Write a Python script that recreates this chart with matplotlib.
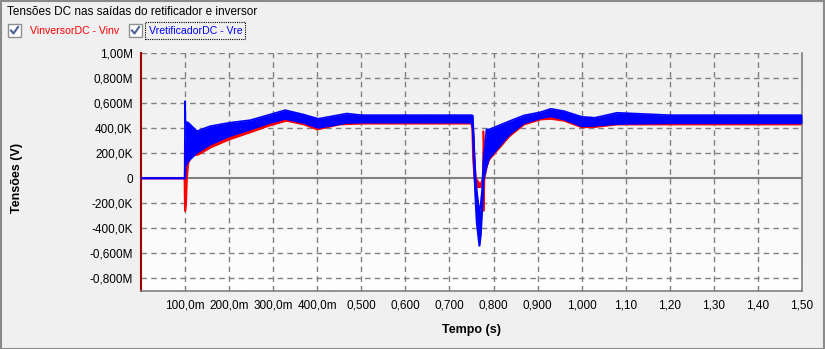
import numpy as np
import matplotlib
matplotlib.use('Agg')
import matplotlib.pyplot as plt
from matplotlib.patches import Rectangle
from matplotlib.lines import Line2D

plt.rcParams['font.family'] = ['Liberation Sans', 'DejaVu Sans']

# envelope of the ripple band, values in MV, time in s
# VretificadorDC (blue)
t_re = [0, 0.099, 0.1, 0.101, 0.107, 0.127, 0.157, 0.2, 0.248, 0.293, 0.327, 0.369, 0.402,
        0.467, 0.5, 0.75, 0.753, 0.756, 0.759, 0.762, 0.768, 0.771, 0.774, 0.777, 0.784,
        0.79, 0.836, 0.869, 0.907, 0.93, 0.96, 1.0, 1.03, 1.08, 1.2, 1.5]
re_lo = [0, 0, 0.0, 0.10, 0.137, 0.205, 0.27, 0.336, 0.39, 0.443, 0.475, 0.443, 0.403,
         0.443, 0.445, 0.445, 0.40, 0.10, -0.144, -0.35, -0.538, -0.45, -0.25, -0.01, 0.096,
         0.16, 0.35, 0.44, 0.48, 0.495, 0.47, 0.416, 0.42, 0.435, 0.44, 0.44]
re_hi = [0, 0, 0.616, 0.45, 0.445, 0.376, 0.416, 0.443, 0.464, 0.509, 0.544, 0.509, 0.475,
         0.517, 0.504, 0.504, 0.50, 0.25, 0.016, -0.10, -0.275, -0.20, -0.09, 0.15, 0.39,
         0.39, 0.456, 0.502, 0.528, 0.555, 0.536, 0.491, 0.483, 0.523, 0.504, 0.504]

# VinversorDC (red)
t_inv = [0, 0.099, 0.1, 0.102, 0.104, 0.107, 0.115, 0.13, 0.16, 0.2, 0.25, 0.29, 0.33, 0.37,
         0.40, 0.45, 0.5, 0.75, 0.752, 0.754, 0.757, 0.760, 0.770, 0.776, 0.777, 0.779,
         0.785, 0.79, 0.836, 0.869, 0.907, 0.93, 0.96, 1.0, 1.03, 1.08, 1.2, 1.5]
inv_lo = [0, 0, -0.26, -0.20, 0.0, 0.12, 0.18, 0.19, 0.25, 0.31, 0.37, 0.42, 0.46, 0.43,
          0.39, 0.43, 0.437, 0.437, 0.39, 0.15, 0.0, -0.07, -0.07, -0.05, -0.26, 0.0,
          0.10, 0.15, 0.336, 0.43, 0.47, 0.475, 0.46, 0.408, 0.41, 0.43, 0.43, 0.43]
inv_hi = [0, 0, 0.10, 0.25, 0.30, 0.38, 0.39, 0.35, 0.30, 0.36, 0.41, 0.46, 0.49, 0.46,
          0.43, 0.46, 0.46, 0.46, 0.44, 0.39, 0.15, 0.0, -0.05, 0.0, 0.376, 0.2,
          0.3, 0.35, 0.40, 0.47, 0.50, 0.51, 0.49, 0.45, 0.45, 0.46, 0.46, 0.46]

y_ticks = [1.0, 0.8, 0.6, 0.4, 0.2, 0, -0.2, -0.4, -0.6, -0.8]
y_labels = ['1,00M', '0,800M', '0,600M', '400,0K', '200,0K', '0',
            '-200,0K', '-400,0K', '-0,600M', '-0,800M']
x_ticks = [0.1, 0.2, 0.3, 0.4, 0.5, 0.6, 0.7, 0.8, 0.9, 1.0, 1.1, 1.2, 1.3, 1.4, 1.5]
x_labels = ['100,0m', '200,0m', '300,0m', '400,0m', '0,500', '0,600', '0,700', '0,800',
            '0,900', '1,000', '1,10', '1,20', '1,30', '1,40', '1,50']

M = 1e6
fig = plt.figure(figsize=(8.25, 3.49), dpi=100, facecolor='#f0f0f0')
ax = fig.add_axes([141/825, 1 - 291/349, 661/825, 238/349])

# gradient background
grad = np.linspace(0.93, 0.995, 100).reshape(-1, 1)
ax.imshow(grad, cmap='gray', vmin=0, vmax=1, aspect='auto',
          extent=[0, 1.5, -0.9*M, 1.0*M], origin='upper', zorder=0)

for y in y_ticks:
    if y == 0:
        ax.axhline(0, color='#808080', lw=1.5, zorder=1)
    else:
        ax.axhline(y*M, color='#808080', lw=1, ls=(0, (4, 3)), zorder=1)
for x in x_ticks:
    ax.axvline(x, color='#808080', lw=1, ls=(0, (4, 3)), zorder=1)

ti = np.array(t_inv)
ax.fill_between(ti, np.array(inv_lo)*M, np.array(inv_hi)*M, color='#ff0000', lw=0, zorder=2)
ax.plot(ti, np.array(inv_lo)*M, color='#ff0000', lw=1.5, zorder=2)
ax.plot(ti, np.array(inv_hi)*M, color='#ff0000', lw=1.2, zorder=2)

tr = np.array(t_re)
ax.fill_between(tr, np.array(re_lo)*M, np.array(re_hi)*M, color='#0000ff', lw=0, zorder=3)
ax.plot(tr, np.array(re_lo)*M, color='#0000ff', lw=1.5, zorder=3)
ax.plot(tr, np.array(re_hi)*M, color='#0000ff', lw=1.2, zorder=3)

ax.set_xlim(0, 1.5)
ax.set_ylim(-0.9*M, 1.0*M)
ax.set_yticks([y*M for y in y_ticks])
ax.set_yticklabels(y_labels)
ax.set_xticks(x_ticks)
ax.set_xticklabels(x_labels)
ax.tick_params(length=0, labelsize=8.5, pad=6)
ax.spines['top'].set_visible(False)
ax.spines['left'].set_color('#a00000')
ax.spines['left'].set_linewidth(1.5)
ax.spines['bottom'].set_color('#808080')
ax.spines['right'].set_color('#808080')
ax.spines['bottom'].set_linewidth(1.2)
ax.spines['right'].set_linewidth(1.2)

fig.text(471/825, 1 - 330/349, 'Tempo (s)', ha='center', va='center',
         fontsize=9, fontweight='bold')
fig.text(17/825, 1 - 178/349, 'Tensões (V)', ha='center', va='center',
         rotation=90, fontsize=9, fontweight='bold')

fig.text(7/825, 1 - 12/349, 'Tensões DC nas saídas do retificador e inversor',
         ha='left', va='center', fontsize=8.5)


def checkbox(x0, y0):
    fig.add_artist(Rectangle((x0/825, 1 - (y0 + 13)/349), 13/825, 13/349,
                             transform=fig.transFigure, facecolor='white',
                             edgecolor='#8e8f8f', lw=1))
    fig.add_artist(Line2D([(x0 + 3)/825, (x0 + 5.5)/825, (x0 + 10)/825],
                          [1 - (y0 + 6.5)/349, 1 - (y0 + 9.5)/349, 1 - (y0 + 3)/349],
                          transform=fig.transFigure, color='#4a5f97', lw=1.5))


checkbox(8, 24)
fig.text(30/825, 1 - 31/349, 'VinversorDC - Vinv', ha='left', va='center',
         fontsize=7.6, color='#ff0000')
checkbox(129, 24)
fig.text(149/825, 1 - 31/349, 'VretificadorDC - Vre', ha='left', va='center',
         fontsize=7.6, color='#0000ff')
fig.add_artist(Rectangle((145/825, 1 - 39/349), 100/825, 17/349, transform=fig.transFigure,
                         facecolor='none', edgecolor='black', lw=0.8, ls=(0, (1, 1))))

# outer frame
fig.add_artist(Rectangle((0.5/825, 0.5/349), 823.5/825, 347.5/349, transform=fig.transFigure,
                         facecolor='none', edgecolor='#8a8a8a', lw=1.5))

fig.savefig('out.png', dpi=100, facecolor=fig.get_facecolor())
